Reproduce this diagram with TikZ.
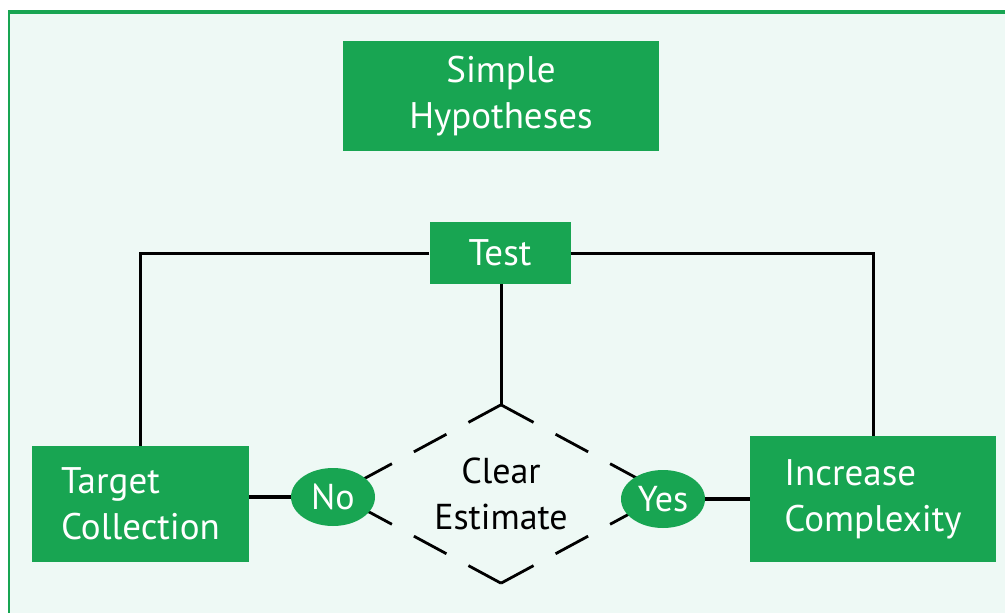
\documentclass[tikz,border=0pt]{standalone}
\usepackage{fontspec}
\setmainfont{PT Sans}
\usetikzlibrary{shapes.geometric}
\definecolor{gr}{RGB}{24,165,82}
\definecolor{bg}{RGB}{238,249,245}
\tikzset{
  box/.style={fill=gr, text=white, inner sep=0pt, align=center,
    font=\fontsize{37}{46}\selectfont},
  lbox/.style={box, align=left},
  oval/.style={ellipse, fill=gr, text=white, inner sep=0pt,
    minimum width=84pt, minimum height=58pt, font=\fontsize{36}{40}\selectfont},
  conn/.style={black, line width=3pt},
  thickconn/.style={black, line width=4.5pt},
  dashline/.style={black, line width=2.8pt, dash pattern=on 37pt off 25pt}
}
\begin{document}
\begin{tikzpicture}[x=1pt,y=-1pt]
\useasboundingbox (0,0) rectangle (1005,613);
\fill[white] (0,0) rectangle (1005,613);
\fill[bg] (9,12) rectangle (1005,613);
\draw[gr, line width=4.5pt] (8,12) -- (1005,12);
\draw[gr, line width=2.5pt] (9,10) -- (9,613);

\node[box, minimum width=316pt, minimum height=110pt] (SH) at (501,96) {Simple\\Hypotheses};
\node[box, minimum width=141pt, minimum height=62pt] (T) at (500,253) {Test};
\node[lbox, minimum width=217pt, minimum height=116pt] (TC) at (140.5,504) {Target\\Collection};
\node[lbox, minimum width=246pt, minimum height=126pt] (IC) at (873,499) {Increase\\Complexity};

\node[diamond, draw=none, inner sep=0pt, minimum width=330pt, minimum height=178pt,
  label={[align=center, inner sep=0pt, font=\fontsize{36}{46}\selectfont]center:{Clear\\Estimate}}]
  (D) at (501,494) {};

\draw[dashline] (D.north) -- (D.west);
\draw[dashline] (D.north) -- (D.east);
\draw[dashline] (D.south) -- (D.west);
\draw[dashline] (D.south) -- (D.east);

\node[oval] (No) at (333,497) {No};
\node[oval] (Yes) at (663,499) {Yes};

\draw[conn] (T.west) -| (TC.north);
\draw[conn] (T.east) -| (IC.north);
\draw[conn] (T.south -| D.north) -- (D.north);
\draw[thickconn] (TC.east |- No.west) -- (No.west);
\draw[thickconn] (Yes.east) -- (Yes.east -| IC.west);
\end{tikzpicture}
\end{document}
